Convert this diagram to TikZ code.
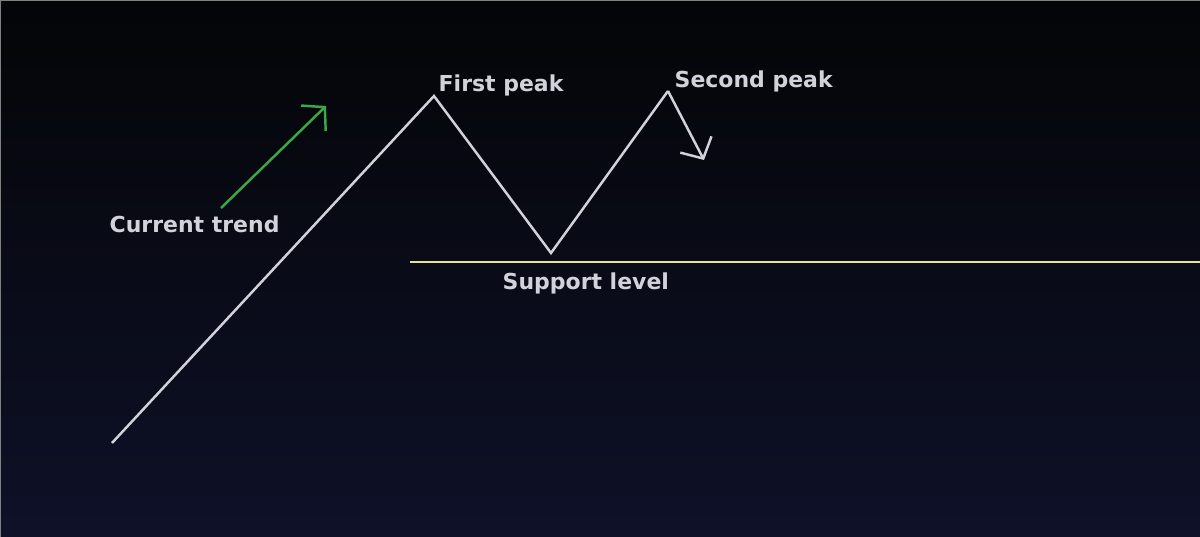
\documentclass[tikz,border=0pt]{standalone}
\usepackage{fontspec}
\setmainfont{DejaVu Sans}
\usetikzlibrary{arrows.meta}
\definecolor{bgtop}{HTML}{040507}
\definecolor{bgbot}{HTML}{0E1128}
\definecolor{lineclr}{HTML}{D2D2DA}
\definecolor{trendclr}{HTML}{3AA845}
\definecolor{supportclr}{HTML}{E6E29C}
\tikzstyle{arrow} = [line width=0.7pt,-{Straight Barb[length=4.5pt,width=10pt]}]

\begin{document}
\begin{tikzpicture}
        [
            x=0.01cm, y=-0.01cm,
            label/.style={anchor=base west, inner sep=0pt, text=lineclr,
                font=\bfseries\fontsize{6.25}{7.5}\selectfont},
            price/.style={draw=lineclr, line width=0.7pt, line join=miter},
        ]

    % background
    \shade[top color=bgtop, bottom color=bgbot] (0,0) rectangle (1200,537);
    \useasboundingbox (0,0) rectangle (1200,537);
    \draw[gray, line width=0.3pt] (0.5,537) -- (0.5,0.5) -- (1200,0.5);

    % price path
    \coordinate (start)  at (112,443);
    \coordinate (peakA)  at (434,96);
    \coordinate (trough) at (551,253);
    \coordinate (peakB)  at (668,91);
    \coordinate (fall)   at (704,160);
    \draw[price] (start) -- (peakA) -- (trough) -- (peakB);
    \draw[arrow, lineclr] (peakB) -- (fall);

    % support level
    \coordinate (supL) at (410,262);
    \coordinate (supR) at (1200,262);
    \draw[supportclr, line width=0.5pt] (supL) -- (supR);

    % current trend
    \coordinate (trendA) at (221,208);
    \coordinate (trendB) at (326,106);
    \draw[arrow, trendclr] (trendA) -- (trendB);

    % labels
    \node[label] (lblA)     at (438,92)  {First peak};
    \node[label] (lblB)     at (674,88)  {Second peak};
    \node[label] (lblTrend) at (109,233) {Current trend};
    \node[label] (lblSup)   at (502,290) {Support level};
    \end{tikzpicture}
\end{document}
